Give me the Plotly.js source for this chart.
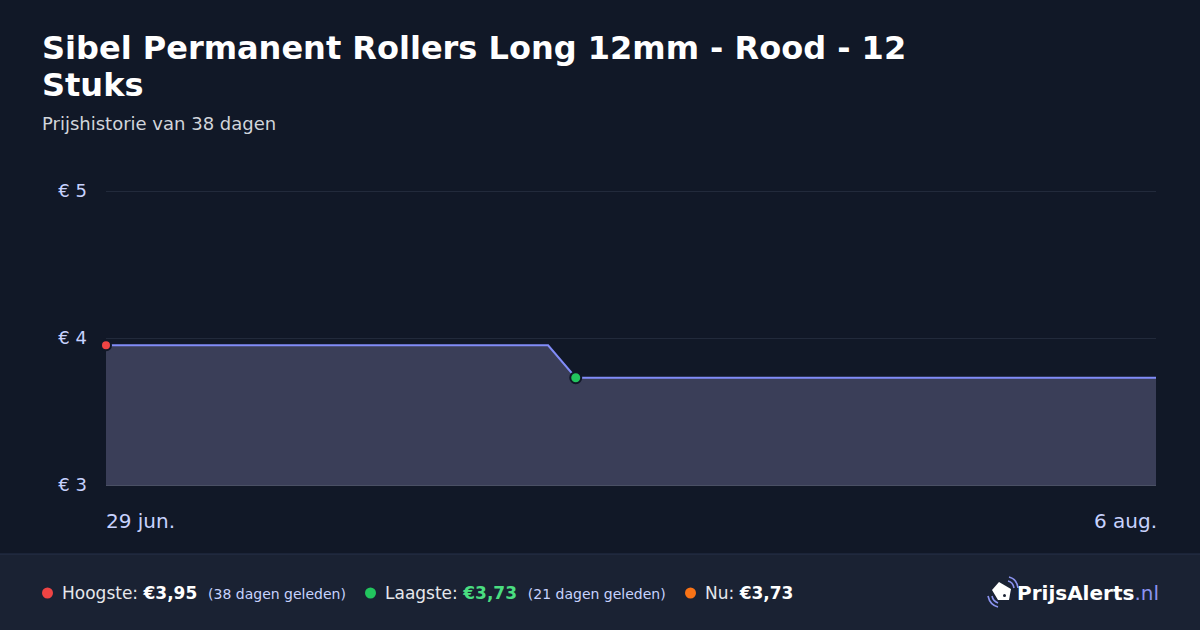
<!DOCTYPE html>
<html>
<head>
<meta charset="utf-8">
<script src="https://cdn.plot.ly/plotly-3.0.1.min.js"></script>
<style>
html,body{margin:0;padding:0;background:#111827;}
#chart{width:1200px;height:630px;}
</style>
</head>
<body>
<div id="chart"></div>
<script>
// ---- data ----
const dates = ["2025-06-29", "2025-07-15", "2025-07-16", "2025-08-06"];
const prices = [3.95, 3.95, 3.73, 3.73];
const xTickLabels = ["29 jun.", "6 aug."];
const yTickValues = [3, 4, 5];
const yTickLabels = ["€ 3", "€ 4", "€ 5"];
const titleLine1 = "Sibel Permanent Rollers Long 12mm - Rood - 12";
const titleLine2 = "Stuks";
const subtitleText = "Prijshistorie van 38 dagen";
const highIndex = 0;   // Hoogste
const lowIndex = 2;    // Laagste
const nowIndex = 3;    // Nu
const highAgo = "(38 dagen geleden)";
const lowAgo = "(21 dagen geleden)";

function euro(v){ return "€" + v.toFixed(2).replace(".", ","); }

// ---- helpers for pixel placement ----
const W = 1200, H = 630;
const px = x => x / W;
const py = y => (H - y) / H;
function pathPx(cmds){
  return cmds.map(c => {
    const op = c[0];
    const nums = [];
    for (let i = 1; i < c.length; i += 2) nums.push(px(c[i]).toFixed(5) + "," + py(c[i+1]).toFixed(5));
    return op + nums.join(" ");
  }).join(" ");
}

const font = "DejaVu Sans, Verdana, sans-serif";

const traces = [
  {
    x: dates, y: prices, type: "scatter", mode: "lines",
    line: {color: "#818cf8", width: 2},
    fill: "tozeroy", fillcolor: "#3a3e58",
    hoverinfo: "skip", showlegend: false
  },
  {
    x: [dates[highIndex]], y: [prices[highIndex]], type: "scatter", mode: "markers",
    marker: {color: "#ef4444", size: 10, line: {color: "#111827", width: 2}},
    cliponaxis: false, hoverinfo: "skip", showlegend: false
  },
  {
    x: [dates[lowIndex]], y: [prices[lowIndex]], type: "scatter", mode: "markers",
    marker: {color: "#22c55e", size: 11, line: {color: "#111827", width: 2}},
    cliponaxis: false, hoverinfo: "skip", showlegend: false
  }
];

const annotations = [
  {text: "<b>" + titleLine1 + "</b>", xref: "paper", yref: "paper", x: px(42), y: py(48), xanchor: "left", yanchor: "middle",
   xshift: -2, showarrow: false, font: {family: font, size: 32, color: "#ffffff"}},
  {text: "<b>" + titleLine2 + "</b>", xref: "paper", yref: "paper", x: px(42), y: py(85), xanchor: "left", yanchor: "middle",
   xshift: -2, showarrow: false, font: {family: font, size: 32, color: "#ffffff"}},
  {text: subtitleText, xref: "paper", yref: "paper", x: px(42), y: py(124), xanchor: "left", yanchor: "middle",
   xshift: -2, showarrow: false, font: {family: font, size: 18, color: "#d1d5db"}},
  {text: xTickLabels[0], xref: "x", yref: "paper", x: dates[0], y: py(521), xanchor: "left", yanchor: "middle",
   xshift: -2, showarrow: false, font: {family: font, size: 20, color: "#c7d2fe"}},
  {text: xTickLabels[1], xref: "x", yref: "paper", x: dates[dates.length-1], y: py(521), xanchor: "right", yanchor: "middle",
   xshift: 3, showarrow: false, font: {family: font, size: 20, color: "#c7d2fe"}},
  // footer stats
  {text: "Hoogste: <b style='color:#ffffff'>" + euro(prices[highIndex]) + "</b>  <span style='font-size:14px;color:#c7d2fe'>" + highAgo + "</span>",
   xref: "paper", yref: "paper", x: px(62), y: py(593), xanchor: "left", yanchor: "middle", xshift: -2,
   showarrow: false, font: {family: font, size: 17, color: "#e5e7eb"}},
  {text: "Laagste: <b style='color:#4ade80'>" + euro(prices[lowIndex]) + "</b>  <span style='font-size:14px;color:#c7d2fe'>" + lowAgo + "</span>",
   xref: "paper", yref: "paper", x: px(385), y: py(593), xanchor: "left", yanchor: "middle", xshift: -2,
   showarrow: false, font: {family: font, size: 17, color: "#e5e7eb"}},
  {text: "Nu: <b style='color:#ffffff'>" + euro(prices[nowIndex]) + "</b>",
   xref: "paper", yref: "paper", x: px(705), y: py(593), xanchor: "left", yanchor: "middle", xshift: -2,
   showarrow: false, font: {family: font, size: 17, color: "#e5e7eb"}},
  // logo
  {text: "<b>PrijsAlerts</b><span style='color:#8b93f0'>.nl</span>",
   xref: "paper", yref: "paper", x: px(1158), y: py(593), xanchor: "right", yanchor: "middle", xshift: 3,
   showarrow: false, font: {family: font, size: 20, color: "#ffffff"}}
];

const shapes = [
  // footer background
  {type: "rect", xref: "paper", yref: "paper", x0: 0, x1: 1, y0: 0, y1: py(554),
   fillcolor: "#1a2233", line: {width: 0}, layer: "below"},
  {type: "line", xref: "paper", yref: "paper", x0: 0, x1: 1, y0: py(554), y1: py(554),
   line: {color: "#27304a", width: 1}},
  // footer dots
  {type: "circle", xref: "paper", yref: "paper", x0: px(42), x1: px(53), y0: py(598.5), y1: py(587.5),
   fillcolor: "#ef4444", line: {width: 0}},
  {type: "circle", xref: "paper", yref: "paper", x0: px(365), x1: px(376), y0: py(598.5), y1: py(587.5),
   fillcolor: "#22c55e", line: {width: 0}},
  {type: "circle", xref: "paper", yref: "paper", x0: px(685), x1: px(696), y0: py(598.5), y1: py(587.5),
   fillcolor: "#f97316", line: {width: 0}},
  // logo tag
  {type: "path", xref: "paper", yref: "paper",
   path: pathPx([["M",992,590],["L",999,582],["L",1011,589],["L",1009,600],["L",998,600],["Z"]]),
   fillcolor: "#ffffff", line: {width: 0}},
  {type: "circle", xref: "paper", yref: "paper", x0: px(1003), x1: px(1006), y0: py(597), y1: py(594),
   fillcolor: "#1a2233", line: {width: 0}},
  // signal arcs upper right
  {type: "path", xref: "paper", yref: "paper",
   path: pathPx([["M",1008,581],["Q",1013,582,1014,588]]), line: {color: "#8b93f0", width: 1.6}},
  {type: "path", xref: "paper", yref: "paper",
   path: pathPx([["M",1009,577],["Q",1017,579,1018,588]]), line: {color: "#8b93f0", width: 1.6}},
  // signal arcs lower left
  {type: "path", xref: "paper", yref: "paper",
   path: pathPx([["M",992,596],["Q",993,601,998,603]]), line: {color: "#8b93f0", width: 1.6}},
  {type: "path", xref: "paper", yref: "paper",
   path: pathPx([["M",988,596],["Q",990,605,998,607]]), line: {color: "#8b93f0", width: 1.6}}
];

const layout = {
  width: W, height: H,
  margin: {l: 0, r: 0, t: 0, b: 0},
  paper_bgcolor: "#111827",
  plot_bgcolor: "#111827",
  font: {family: font, color: "#c7d2fe"},
  xaxis: {
    type: "date",
    domain: [px(106), px(1156)],
    range: [dates[0], dates[dates.length-1]],
    showgrid: false, zeroline: false,
    showticklabels: false, ticks: "",
    showline: true, linecolor: "#4a5064", linewidth: 1,
    fixedrange: true
  },
  yaxis: {
    domain: [py(485), py(190)],
    range: [3, 5.007],
    tickvals: yTickValues,
    ticktext: yTickLabels,
    tickfont: {family: font, size: 18, color: "#c7d2fe"},
    ticklabelstandoff: 18,
    showgrid: true, gridcolor: "#222a3b", gridwidth: 1,
    zeroline: false, showline: false, ticks: "",
    fixedrange: true
  },
  annotations: annotations,
  shapes: shapes,
  showlegend: false
};

Plotly.newPlot("chart", traces, layout, {displayModeBar: false, staticPlot: true});
</script>
</body>
</html>
